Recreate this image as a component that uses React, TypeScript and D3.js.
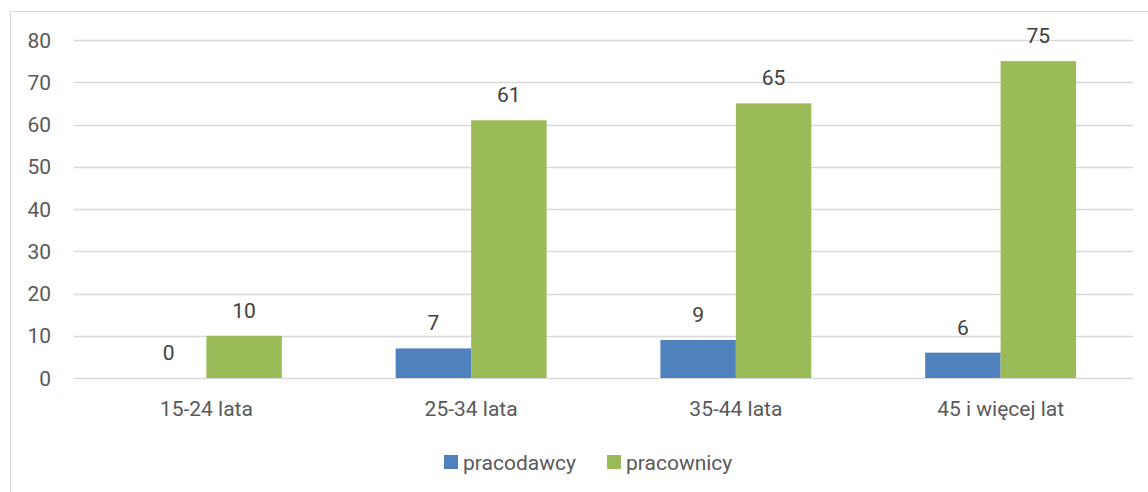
import React, { useEffect, useRef } from 'react';
import * as d3 from 'd3';

const categories = ['15-24 lata', '25-34 lata', '35-44 lata', '45 i więcej lat'];
const seriesNames = ['pracodawcy', 'pracownicy'];
const pracodawcy = [0, 7, 9, 6];
const pracownicy = [10, 61, 65, 75];
const yTicks = [0, 10, 20, 30, 40, 50, 60, 70, 80];

const colors = ['#4F81BD', '#9BBB59'];
const FONT = 'Roboto, "Liberation Sans", sans-serif';

export default function App() {
  const svgRef = useRef<SVGSVGElement>(null);
  const width = 1148;
  const height = 492;

  useEffect(() => {
    if (!svgRef.current) return;
    const svg = d3.select(svgRef.current);
    svg.selectAll('*').remove();

    // chart frame
    svg.append('rect')
      .attr('x', 10.5).attr('y', 11.5)
      .attr('width', 1150).attr('height', 500)
      .attr('fill', '#fff').attr('stroke', '#D9D9D9').attr('stroke-width', 1);

    const left = 74, right = 1133, top = 40, bottom = 378;

    const x0 = d3.scaleBand().domain(categories).range([left, right]).paddingInner(0).paddingOuter(0);
    const y = d3.scaleLinear().domain([0, 80]).range([bottom, top]);

    const groupW = x0.bandwidth() * 0.57;
    const x1 = d3.scaleBand().domain(seriesNames).range([0, groupW]);

    // gridlines
    svg.append('g').selectAll('line').data(yTicks).enter().append('line')
      .attr('x1', left).attr('x2', right)
      .attr('y1', d => Math.round(y(d)) + 0.5).attr('y2', d => Math.round(y(d)) + 0.5)
      .attr('stroke', '#D9D9D9').attr('stroke-width', 1.3);

    // y tick labels
    svg.append('g').selectAll('text').data(yTicks).enter().append('text')
      .attr('x', 51).attr('y', d => y(d))
      .attr('dy', '0.36em')
      .attr('text-anchor', 'end')
      .attr('font-family', FONT).attr('font-size', 21)
      .attr('fill', '#595959')
      .text(d => d);

    const series = [pracodawcy, pracownicy];

    const groups = svg.append('g').selectAll('g').data(categories).enter().append('g')
      .attr('transform', c => `translate(${x0(c)! + (x0.bandwidth() - groupW) / 2},0)`);

    seriesNames.forEach((name, si) => {
      groups.append('rect')
        .attr('x', x1(name)!)
        .attr('width', x1.bandwidth())
        .attr('y', (_, i) => y(series[si][i]))
        .attr('height', (_, i) => bottom - y(series[si][i]))
        .attr('fill', colors[si]);

      groups.append('text')
        .attr('x', x1(name)! + x1.bandwidth() / 2)
        .attr('y', (_, i) => y(series[si][i]) - 18)
        .attr('text-anchor', 'middle')
        .attr('font-family', FONT).attr('font-size', 21)
        .attr('fill', '#404040')
        .text((_, i) => series[si][i]);
    });

    // category labels
    svg.append('g').selectAll('text').data(categories).enter().append('text')
      .attr('x', c => x0(c)! + x0.bandwidth() / 2)
      .attr('y', 416)
      .attr('text-anchor', 'middle')
      .attr('font-family', FONT).attr('font-size', 21)
      .attr('fill', '#595959')
      .text(c => c);

    // legend
    const legendItems = [
      { name: seriesNames[0], x: 444 },
      { name: seriesNames[1], x: 607 },
    ];
    const lg = svg.append('g').selectAll('g').data(legendItems).enter().append('g')
      .attr('transform', d => `translate(${d.x},455)`);
    lg.append('rect')
      .attr('width', 14).attr('height', 14)
      .attr('fill', (_, i) => colors[i]);
    lg.append('text')
      .attr('x', 19).attr('y', 7).attr('dy', '0.36em')
      .attr('font-family', FONT).attr('font-size', 21)
      .attr('fill', '#595959')
      .text(d => d.name);
  }, []);

  return (
    <div style={{ position: 'absolute', left: 0, top: 0 }}>
      <svg ref={svgRef} width={width} height={height} style={{ display: 'block' }} />
    </div>
  );
}
